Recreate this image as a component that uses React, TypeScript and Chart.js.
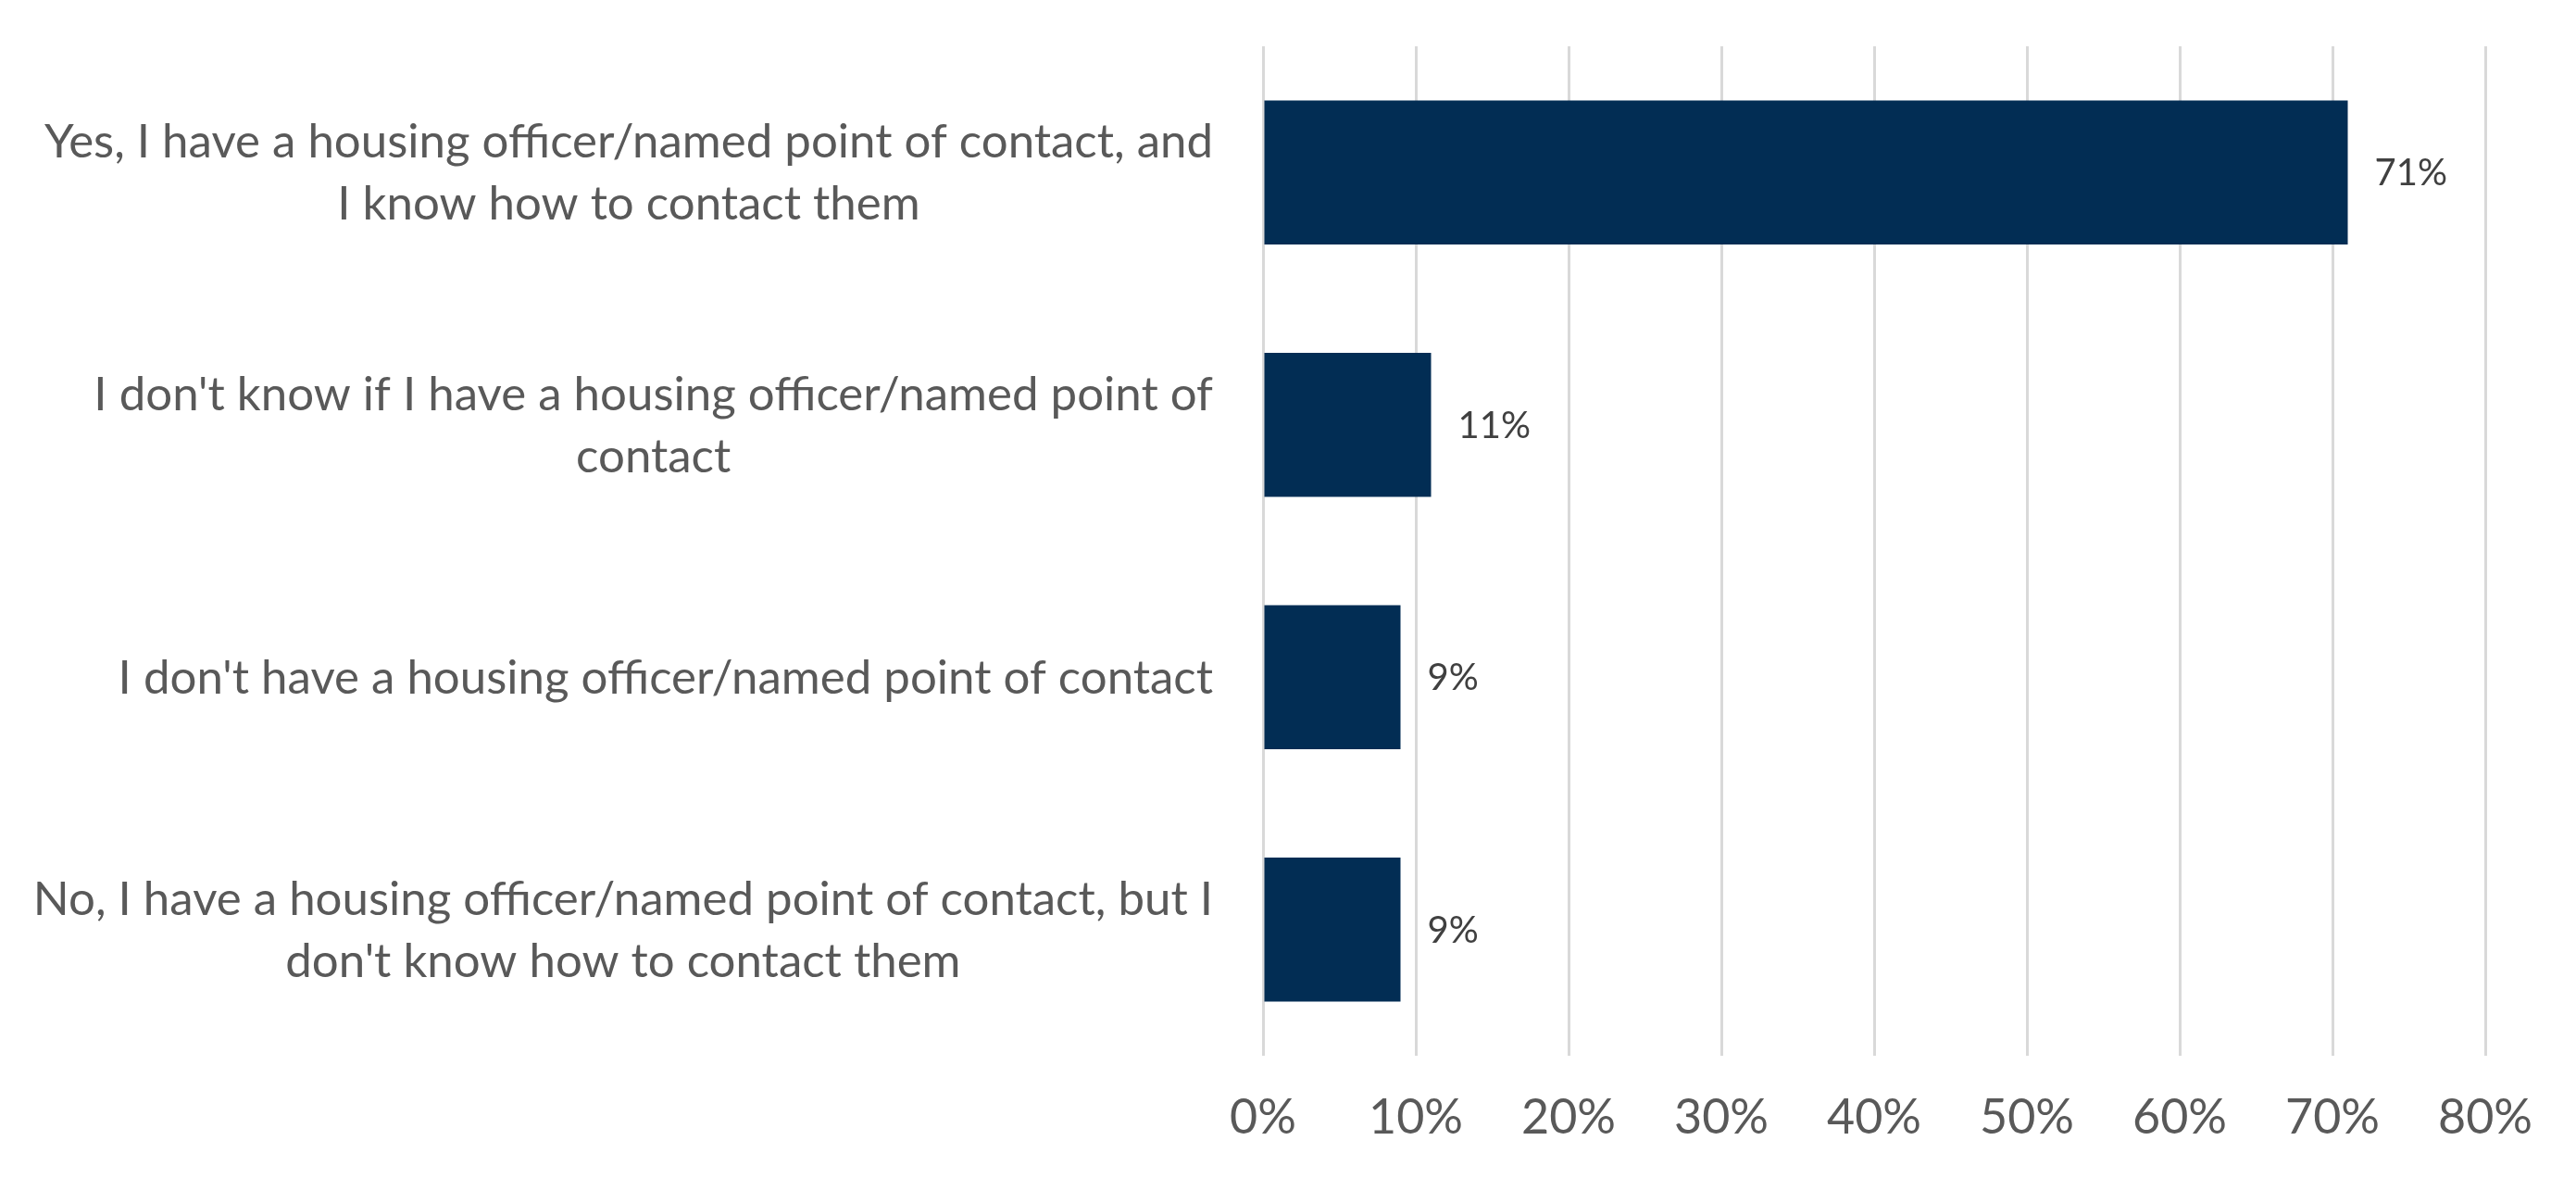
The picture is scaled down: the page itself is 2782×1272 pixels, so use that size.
import React, { useEffect, useRef } from "react";
import { Chart, registerables } from "chart.js";

Chart.register(...registerables);

const categoryLines: string[][] = [
  ["Yes, I have a housing officer/named point of contact, and", "I know how to contact them"],
  ["I don't know if I have a housing officer/named point of", "contact"],
  ["I don't have a housing officer/named point of contact"],
  ["No, I have a housing officer/named point of contact, but I", "don't know how to contact them"],
];
const values: number[] = [71, 11, 9, 9];
const xTicks: number[] = [0, 10, 20, 30, 40, 50, 60, 70, 80];

const FONT = "Lato, 'Noto Sans', sans-serif";

const categoryLabelPlugin = {
  id: "categoryLabels",
  afterDraw(chart: any) {
    const ctx = chart.ctx;
    const yScale = chart.scales.y;
    const area = chart.chartArea;
    ctx.save();
    ctx.font = `51px ${FONT}`;
    ctx.fillStyle = "#595959";
    ctx.textBaseline = "middle";
    ctx.textAlign = "center";
    const lineH = 67;
    const rightEdge = area.left - 54;
    categoryLines.forEach((lines, i) => {
      const y = yScale.getPixelForTick(i);
      const blockW = Math.max(...lines.map((l) => ctx.measureText(l).width));
      const cx = rightEdge - blockW / 2;
      const startY = y - ((lines.length - 1) * lineH) / 2 + 1;
      lines.forEach((l, j) => ctx.fillText(l, cx, startY + j * lineH));
    });
    ctx.restore();
  },
};

const valueLabelPlugin = {
  id: "valueLabels",
  afterDatasetsDraw(chart: any) {
    const ctx = chart.ctx;
    const meta = chart.getDatasetMeta(0);
    ctx.save();
    ctx.font = `40px ${FONT}`;
    ctx.fillStyle = "#404040";
    ctx.textBaseline = "middle";
    ctx.textAlign = "left";
    meta.data.forEach((bar: any, i: number) => {
      ctx.fillText(`${values[i]}%`, bar.x + 29, bar.y + 1);
    });
    ctx.restore();
  },
};

export default function App() {
  const ref = useRef<HTMLCanvasElement>(null);
  useEffect(() => {
    document.body.style.margin = "0";
    const chart = new Chart(ref.current!, {
      type: "bar",
      data: {
        labels: categoryLines.map((l) => l.join(" ")),
        datasets: [
          {
            data: values,
            backgroundColor: "#022D54",
            borderWidth: 0,
            barPercentage: 0.57,
            categoryPercentage: 1,
          },
        ],
      },
      options: {
        indexAxis: "y",
        animation: false,
        responsive: false,
        devicePixelRatio: 1,
        layout: { padding: { left: 0, right: 98, top: 50, bottom: 0 } },
        plugins: { legend: { display: false }, tooltip: { enabled: false } },
        scales: {
          x: {
            min: 0,
            max: 80,
            afterBuildTicks(scale: any) {
              scale.ticks = xTicks.map((v) => ({ value: v }));
            },
            afterFit(scale: any) {
              scale.height = 132;
            },
            grid: { color: "#d9d9d9", lineWidth: 3, drawTicks: false },
            border: { display: false },
            ticks: {
              padding: 36,
              color: "#595959",
              font: { family: FONT, size: 52 },
              callback: (v: any) => `${v}%`,
            },
          },
          y: {
            afterFit(scale: any) {
              scale.width = 1364;
            },
            grid: { display: false },
            border: { display: false },
            ticks: { display: false },
          },
        },
      },
      plugins: [categoryLabelPlugin, valueLabelPlugin],
    } as any);
    return () => chart.destroy();
  }, []);
  return (
    <div style={{ position: "absolute", left: 0, top: 0, width: 2782, height: 1272, background: "#fff" }}>
      <canvas ref={ref} width={2782} height={1272} style={{ width: 2782, height: 1272 }} />
    </div>
  );
}
